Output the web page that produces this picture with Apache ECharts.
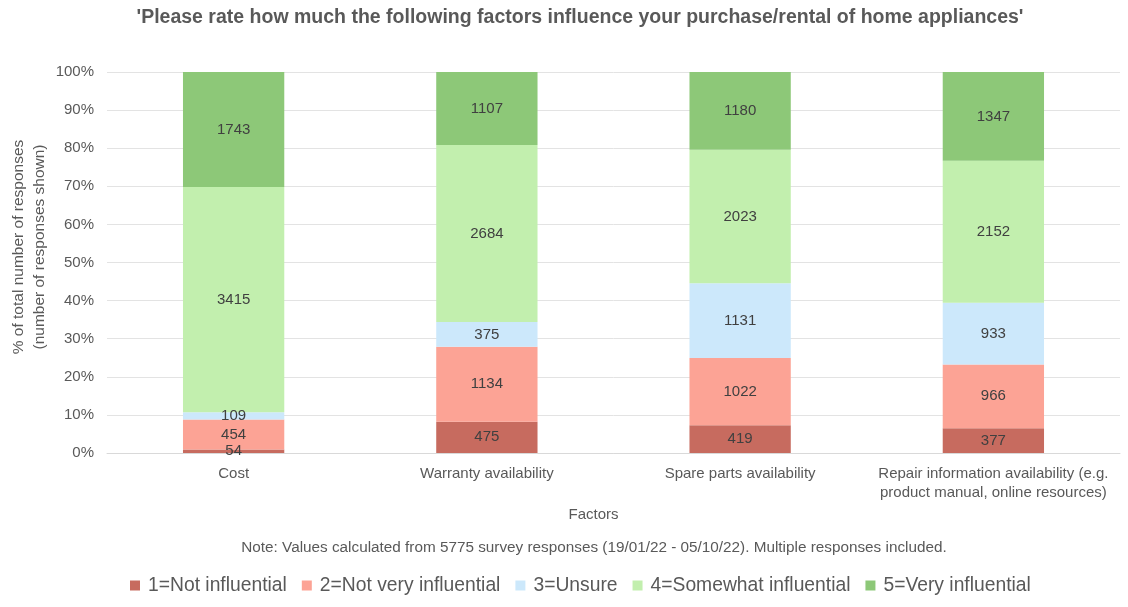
<!DOCTYPE html>
<html>
<head>
<meta charset="utf-8">
<script src="https://cdn.jsdelivr.net/npm/echarts@6/dist/echarts.min.js"></script>
<style>
  html, body { margin: 0; padding: 0; background: #fff; }
  #chart { width: 1128px; height: 607px; }
</style>
</head>
<body>
<div id="chart"></div>
<script>
const factors = ['Cost', 'Warranty availability', 'Spare parts availability', 'Repair information availability (e.g.\nproduct manual, online resources)']
const ratingNames = ['1=Not influential', '2=Not very influential', '3=Unsure', '4=Somewhat influential', '5=Very influential']
const ratingColors = ['#c76b5f', '#fca395', '#cce8fb', '#c2efae', '#8dc878']

// response counts per factor, one array per rating
const notInfluential = [54, 475, 419, 377]
const notVeryInfluential = [454, 1134, 1022, 966]
const unsure = [109, 375, 1131, 933]
const somewhatInfluential = [3415, 2684, 2023, 2152]
const veryInfluential = [1743, 1107, 1180, 1347]

const counts = [notInfluential, notVeryInfluential, unsure, somewhatInfluential, veryInfluential]
const totals = factors.map((f, i) => counts.reduce((s, arr) => s + arr[i], 0))

const chart = echarts.init(document.getElementById('chart'))

const series = counts.map((arr, k) => ({
  name: ratingNames[k],
  type: 'bar',
  stack: 'all',
  barWidth: '40%',
  itemStyle: { color: ratingColors[k] },
  data: arr.map((v, i) => ({ value: v / totals[i] * 100, count: v })),
  label: {
    show: true,
    position: 'inside',
    color: '#404040',
    fontSize: 15,
    formatter: (p) => p.data.count
  }
}))

chart.setOption({
  animation: false,
  textStyle: { fontFamily: 'Liberation Sans, Arial, sans-serif' },
  title: {
    text: "'Please rate how much the following factors influence your purchase/rental of home appliances'",
    left: 575,
    top: 3,
    textAlign: 'center',
    textStyle: { color: '#595959', fontSize: 19.5, fontWeight: 'bold' }
  },
  graphic: [{
    type: 'text',
    x: 594,
    y: 540,
    style: {
      text: 'Note: Values calculated from 5775 survey responses (19/01/22 - 05/10/22). Multiple responses included.',
      fill: '#595959',
      align: 'center',
      font: '15.3px Liberation Sans, Arial, sans-serif'
    }
  }, {
    // y axis title, placed by hand
    type: 'text',
    x: 29,
    y: 247,
    rotation: Math.PI / 2,
    style: {
      text: '% of total number of responses\n(number of responses shown)',
      fill: '#595959',
      align: 'center',
      verticalAlign: 'middle',
      lineHeight: 21,
      font: '15.5px Liberation Sans, Arial, sans-serif'
    }
  }],
  legend: {
    data: ratingNames,
    bottom: 7,
    left: 125,
    itemWidth: 10,
    itemHeight: 10,
    itemGap: 15,
    icon: 'rect',
    textStyle: { color: '#595959', fontSize: 19.3, padding: [0, 0, 0, 3] }
  },
  grid: { left: 107, right: 8, top: 72, bottom: 154, outerBoundsMode: 'none' },
  xAxis: {
    type: 'category',
    data: factors,
    name: 'Factors',
    nameLocation: 'middle',
    nameGap: 50,
    nameTextStyle: { color: '#595959', fontSize: 15, padding: [0, 40, 0, 0] },
    axisTick: { show: false },
    axisLine: { lineStyle: { color: '#d9d9d9' } },
    axisLabel: { color: '#595959', fontSize: 15, margin: 11, lineHeight: 19, interval: 0 }
  },
  yAxis: {
    type: 'value',
    min: 0,
    max: 100,
    interval: 10,
    axisLabel: { color: '#595959', fontSize: 15, formatter: '{value}%', margin: 13 },
    splitLine: { lineStyle: { color: '#e3e3e3' } },
    axisLine: { show: false },
    axisTick: { show: false }
  },
  series: series
})
</script>
</body>
</html>
